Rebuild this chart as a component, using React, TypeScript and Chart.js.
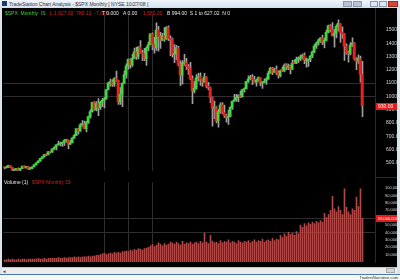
import React, { useEffect, useRef } from "react";
import { Chart, registerables } from "chart.js";
Chart.register(...registerables);

// ---------- data ----------
const START_YEAR = 1993;
const START_MONTH = 10; // November (0-based)
const SLOTS = 186; // Nov 1993 .. Apr 2009 (data ends Oct 2008)
const YEAR_TICKS = ["94", "95", "96", "97", "98", "99", "00", "01", "02", "03", "04", "05", "06", "07", "08", "09"];
const FIRST_TICK_YEAR = 1994;

const FIRST_OPEN = 467.83;
const CLOSES = [
  461.79, 466.45,
  481.61, 467.14, 445.77, 450.91, 456.5, 444.27, 458.26, 475.49, 462.69, 472.35, 453.69, 459.27,
  470.42, 487.39, 500.71, 514.71, 533.4, 544.75, 562.06, 561.88, 584.41, 581.5, 605.37, 615.93,
  636.02, 640.43, 645.5, 654.17, 669.12, 670.63, 639.95, 651.99, 687.31, 705.27, 757.02, 740.74,
  786.16, 790.82, 757.12, 801.34, 848.28, 885.14, 954.29, 899.47, 947.28, 914.62, 955.4, 970.43,
  980.28, 1049.34, 1101.75, 1111.75, 1090.82, 1133.84, 1120.67, 957.28, 1017.01, 1098.67, 1163.63, 1229.23,
  1279.64, 1238.33, 1286.37, 1335.18, 1301.84, 1372.71, 1328.72, 1320.41, 1282.71, 1362.93, 1388.91, 1469.25,
  1394.46, 1366.42, 1498.58, 1452.43, 1420.6, 1454.6, 1430.83, 1517.68, 1436.51, 1429.4, 1314.95, 1320.28,
  1366.01, 1239.94, 1160.33, 1249.46, 1255.82, 1224.42, 1211.23, 1133.58, 1040.94, 1059.78, 1139.45, 1148.08,
  1130.2, 1106.73, 1147.39, 1076.92, 1067.14, 989.82, 911.62, 916.07, 815.28, 885.76, 936.31, 879.82,
  855.7, 841.15, 848.18, 916.92, 963.59, 974.5, 990.31, 1008.01, 995.97, 1050.71, 1058.2, 1111.92,
  1131.13, 1144.94, 1126.21, 1107.3, 1120.68, 1140.84, 1101.72, 1104.24, 1114.58, 1130.2, 1173.82, 1211.92,
  1181.27, 1203.6, 1180.59, 1156.85, 1191.5, 1191.33, 1234.18, 1220.33, 1228.81, 1207.01, 1249.48, 1248.29,
  1280.08, 1280.66, 1294.83, 1310.61, 1270.09, 1270.2, 1276.66, 1303.82, 1335.85, 1377.94, 1400.63, 1418.3,
  1438.24, 1406.82, 1420.86, 1482.37, 1530.62, 1503.35, 1455.27, 1473.99, 1526.75, 1549.38, 1481.14, 1468.36,
  1378.55, 1330.63, 1322.7, 1385.59, 1400.38, 1280.0, 1267.38, 1282.83, 1166.36, 930.0,
];
const HIGHS = [
  468.6, 471.3,
  482.9, 482.2, 468.6, 453.1, 457.6, 462.1, 459.3, 476.6, 477.2, 473.8, 473.7, 466.9,
  471.4, 489.2, 501.3, 515.3, 534.5, 547.0, 565.0, 565.9, 586.0, 587.1, 606.3, 622.9,
  636.2, 664.2, 656.4, 656.7, 674.6, 673.4, 672.7, 669.3, 690.9, 714.1, 757.8, 761.8,
  794.7, 817.7, 814.9, 812.9, 851.9, 898.7, 957.7, 960.3, 960.4, 983.1, 963.4, 986.3,
  993.0, 1051.0, 1106.3, 1130.0, 1123.8, 1141.0, 1190.6, 1121.0, 1066.1, 1102.7, 1192.7, 1244.9,
  1280.5, 1283.8, 1316.6, 1362.8, 1368.0, 1372.9, 1420.3, 1346.1, 1361.0, 1373.2, 1408.7, 1473.1,
  1478.0, 1444.6, 1553.1, 1527.2, 1481.5, 1474.6, 1517.3, 1525.2, 1530.1, 1454.8, 1438.5, 1389.1,
  1383.4, 1376.7, 1267.4, 1269.3, 1315.9, 1286.6, 1239.8, 1255.8, 1155.4, 1110.6, 1163.4, 1173.0,
  1176.6, 1130.2, 1173.0, 1147.8, 1106.6, 1070.7, 994.5, 965.0, 924.0, 900.9, 951.6, 954.3,
  935.0, 864.6, 895.9, 924.2, 965.4, 1015.3, 1015.4, 1011.0, 1040.3, 1053.8, 1063.7, 1112.6,
  1155.4, 1158.9, 1163.2, 1150.6, 1127.7, 1146.2, 1140.8, 1109.7, 1131.5, 1142.1, 1188.5, 1217.9,
  1217.8, 1212.4, 1229.1, 1191.9, 1199.6, 1219.6, 1245.2, 1245.9, 1243.1, 1233.3, 1270.6, 1275.8,
  1294.9, 1297.6, 1310.9, 1318.2, 1326.7, 1290.7, 1280.4, 1306.7, 1340.3, 1389.5, 1407.9, 1431.8,
  1441.6, 1461.6, 1438.9, 1498.0, 1535.6, 1540.6, 1555.9, 1503.9, 1538.7, 1576.1, 1545.8, 1523.6,
  1471.8, 1396.0, 1341.2, 1404.0, 1440.2, 1404.1, 1292.2, 1313.2, 1303.0, 1264.1,
];
const LOWS = [
  454.4, 461.8,
  464.6, 464.3, 437.2, 435.9, 443.7, 442.8, 443.3, 457.3, 462.1, 460.6, 448.9, 452.6,
  457.2, 469.3, 482.6, 500.3, 511.4, 530.5, 543.8, 553.6, 560.4, 572.8, 578.2, 598.9,
  597.3, 632.9, 627.6, 624.2, 630.5, 654.1, 605.9, 639.6, 650.1, 684.5, 703.8, 716.7,
  737.0, 773.4, 756.1, 733.5, 797.4, 836.3, 881.1, 893.9, 891.1, 855.3, 902.7, 922.6,
  912.8, 979.4, 1047.9, 1076.7, 1074.4, 1074.7, 1114.3, 939.9, 939.0, 923.3, 1096.7, 1137.0,
  1205.5, 1211.9, 1226.2, 1282.7, 1277.9, 1281.0, 1325.5, 1268.6, 1268.3, 1233.7, 1343.0, 1387.4,
  1350.1, 1325.1, 1346.6, 1339.4, 1361.1, 1420.6, 1413.9, 1428.6, 1419.4, 1305.8, 1294.9, 1254.1,
  1274.6, 1228.3, 1081.2, 1091.9, 1232.0, 1203.0, 1165.5, 1124.0, 944.8, 1026.8, 1054.3, 1114.5,
  1081.7, 1074.4, 1106.7, 1063.5, 1048.9, 952.9, 775.7, 833.4, 800.2, 768.6, 872.7, 869.4,
  840.3, 806.3, 788.9, 847.9, 902.8, 963.4, 962.1, 960.8, 990.4, 995.9, 1031.2, 1056.8,
  1105.1, 1124.4, 1087.2, 1107.2, 1076.3, 1113.3, 1078.8, 1060.7, 1101.3, 1090.2, 1127.6, 1173.8,
  1163.8, 1180.0, 1163.7, 1136.2, 1146.2, 1188.3, 1183.6, 1201.1, 1201.1, 1168.2, 1201.1, 1246.6,
  1245.7, 1253.6, 1268.4, 1280.7, 1245.3, 1219.3, 1224.5, 1261.3, 1290.9, 1327.1, 1360.9, 1385.9,
  1403.9, 1389.4, 1363.9, 1416.4, 1476.7, 1484.2, 1454.3, 1370.6, 1439.3, 1489.6, 1406.1, 1435.7,
  1270.1, 1316.8, 1256.9, 1312.0, 1373.1, 1272.0, 1200.4, 1247.5, 1106.4, 848.0,
];
// monthly volume, millions
const VOLUMES = [
  3, 3,
  4, 3, 4, 3, 3, 4, 3, 4, 4, 3, 4, 4,
  4, 4, 4, 5, 4, 4, 5, 4, 5, 5, 5, 5,
  5, 6, 5, 5, 6, 5, 6, 6, 6, 7, 6, 7,
  6, 7, 7, 7, 8, 7, 8, 8, 9, 9, 10, 11,
  12, 10, 11, 12, 11, 13, 12, 13, 12, 14, 14, 15,
  14, 16, 15, 17, 16, 18, 17, 16, 18, 19, 20, 22,
  24, 21, 23, 26, 24, 22, 25, 23, 24, 27, 26, 24,
  27, 25, 23, 28, 24, 26, 25, 27, 24, 26, 27, 25,
  28, 26, 39, 27, 25, 36, 28, 26, 27, 25, 29, 26,
  28, 27, 30, 26, 28, 27, 25, 29, 27, 26, 28, 27,
  29, 26, 28, 30, 27, 29, 28, 31, 27, 29, 30, 28,
  32, 29, 31, 30, 36, 33, 38, 35, 40, 37, 39, 36,
  41, 38, 50, 47, 52, 49, 53, 51, 54, 52, 55, 53,
  56, 54, 66, 60, 64, 70, 89, 72, 68, 75, 70, 64,
  99, 74, 68, 64, 72, 70, 88, 75, 99, 59,
];

const GRID_MONTHS = ["1998-01", "1999-01", "2000-01"];
const PRICE_GRID = [1000, 1100];
const VOLUME_GRID = [40, 60];
const PRICE_TICKS = [500, 600, 700, 800, 900, 1000, 1100, 1200, 1300, 1400, 1500];
const VOLUME_TICKS = [10, 20, 30, 40, 50, 60, 70, 80, 90, 100];

const MONTHS: string[] = [];
for (let i = 0; i < SLOTS; i++) {
  const m = START_MONTH + i;
  MONTHS.push(`${START_YEAR + Math.floor(m / 12)}-${String((m % 12) + 1).padStart(2, "0")}`);
}

const GREEN = "#40d840";
const RED = "#e8201e";
const FONT = "'Liberation Sans', Arial, sans-serif";

const overlayPlugin = {
  id: "overlay",
  beforeDatasetsDraw(chart: any, _args: any, opts: any) {
    const { ctx, chartArea, scales } = chart;
    ctx.save();
    ctx.strokeStyle = "#2e2e2e";
    ctx.lineWidth = 1;
    for (const m of opts.vlines || []) {
      const x = Math.round(scales.x.getPixelForValue(MONTHS.indexOf(m))) + 0.5;
      ctx.beginPath();
      ctx.moveTo(x, chartArea.top);
      ctx.lineTo(x, chartArea.bottom);
      ctx.stroke();
    }
    for (const v of opts.hlines || []) {
      const y = Math.round(scales.y.getPixelForValue(v)) + 0.5;
      ctx.beginPath();
      ctx.moveTo(chartArea.left, y);
      ctx.lineTo(chartArea.right, y);
      ctx.stroke();
    }
    ctx.restore();
  },
  // shift 1px-wide bars by half a pixel so they fall on whole pixels
  beforeDatasetDraw(chart: any, args: any, opts: any) {
    chart.ctx.save();
    if ((opts.shiftDatasets || []).includes(args.index)) chart.ctx.translate(0.5, 0);
  },
  afterDatasetDraw(chart: any) {
    chart.ctx.restore();
  },
  afterDraw(chart: any, _args: any, opts: any) {
    if (opts.marker == null) return;
    const { ctx, chartArea, scales } = chart;
    const y = Math.round(scales.y.getPixelForValue(opts.marker));
    ctx.save();
    ctx.fillStyle = "#e41c1c";
    ctx.fillRect(chartArea.right + 1, y - 3, chart.width - chartArea.right - 1, 7);
    ctx.fillStyle = "#ffffff";
    ctx.font = `${opts.markerSize || 5}px ${FONT}`;
    ctx.textBaseline = "middle";
    ctx.fillText(opts.markerText, chartArea.right + 3, y + 0.5);
    ctx.restore();
  },
};

export default function App() {
  const priceRef = useRef<HTMLCanvasElement>(null);
  const volRef = useRef<HTMLCanvasElement>(null);

  useEffect(() => {
    const n = CLOSES.length;
    const opens = CLOSES.map((_, i) => (i === 0 ? FIRST_OPEN : CLOSES[i - 1]));
    const bodies = MONTHS.map((_, i) => (i < n ? [opens[i], CLOSES[i]] : null));
    const wicks = MONTHS.map((_, i) => (i < n ? [LOWS[i], HIGHS[i]] : null));
    const bodyColors = MONTHS.map((_, i) => (i < n && CLOSES[i] < opens[i] ? RED : GREEN));
    const vols = MONTHS.map((_, i) => (i < n ? VOLUMES[i] : null));

    const price = new Chart(priceRef.current!, {
      type: "bar",
      data: {
        labels: MONTHS,
        datasets: [
          {
            label: "range",
            data: wicks as any,
            backgroundColor: "#a0a0a0",
            barThickness: 1,
            grouped: false,
            order: 2,
          } as any,
          {
            label: "$SPX",
            data: bodies as any,
            backgroundColor: bodyColors,
            barThickness: 2,
            minBarLength: 1,
            grouped: false,
            order: 1,
          } as any,
        ],
      },
      options: {
        animation: false,
        responsive: false,
        devicePixelRatio: 1,
        layout: { padding: 0 },
        plugins: {
          legend: { display: false },
          tooltip: { enabled: false },
          overlay: {
            vlines: GRID_MONTHS,
            hlines: PRICE_GRID,
            shiftDatasets: [0],
            marker: CLOSES[n - 1],
            markerText: CLOSES[n - 1].toFixed(2),
            markerSize: 5,
          },
        } as any,
        scales: {
          x: { type: "category", display: false, offset: true },
          y: {
            position: "right",
            min: 439,
            max: 1612,
            grid: { display: false },
            border: { display: false },
            ticks: {
              stepSize: 100,
              includeBounds: false,
              color: "#d8d8d8",
              padding: 3,
              font: { size: 5, family: FONT },
              callback: (v: any) => (PRICE_TICKS.includes(Number(v)) ? Number(v).toFixed(2) : ""),
            },
            afterFit: (s: any) => {
              s.width = 22;
            },
          },
        },
      },
      plugins: [overlayPlugin],
    });

    const vol = new Chart(volRef.current!, {
      type: "bar",
      data: {
        labels: MONTHS,
        datasets: [
          {
            label: "Volume",
            data: vols as any,
            backgroundColor: "#b04848",
            barThickness: 1,
          },
        ],
      },
      options: {
        animation: false,
        responsive: false,
        devicePixelRatio: 1,
        layout: { padding: 0 },
        plugins: {
          legend: { display: false },
          tooltip: { enabled: false },
          overlay: {
            vlines: GRID_MONTHS,
            hlines: VOLUME_GRID,
            shiftDatasets: [0],
            marker: VOLUMES[n - 1],
            markerText: (VOLUMES[n - 1] * 1e6).toLocaleString("en-US"),
            markerSize: 4,
          },
        } as any,
        scales: {
          x: {
            type: "category",
            offset: true,
            grid: { display: false },
            border: { display: false },
            ticks: {
              autoSkip: false,
              maxRotation: 0,
              minRotation: 0,
              padding: 1,
              color: "#d0d0d0",
              font: { size: 5, family: FONT },
              callback: (_v: any, i: number) => {
                const m = MONTHS[i];
                if (!m || !m.endsWith("-01")) return "";
                return YEAR_TICKS[Number(m.slice(0, 4)) - FIRST_TICK_YEAR] ?? "";
              },
            },
            afterFit: (s: any) => {
              s.height = 8;
            },
          },
          y: {
            position: "right",
            min: 0,
            max: 107.7,
            grid: { display: false },
            border: { display: false },
            ticks: {
              stepSize: 10,
              includeBounds: false,
              color: "#d8d8d8",
              padding: 2,
              font: { size: 4, family: FONT },
              callback: (v: any) =>
                VOLUME_TICKS.includes(Number(v)) ? (Number(v) * 1e6).toLocaleString("en-US") : "",
            },
            afterFit: (s: any) => {
              s.width = 22;
            },
          },
        },
      },
      plugins: [overlayPlugin],
    });

    return () => {
      price.destroy();
      vol.destroy();
    };
  }, []);

  const txt: React.CSSProperties = {
    position: "absolute",
    fontSize: 5,
    lineHeight: "6px",
    whiteSpace: "nowrap",
    fontFamily: FONT,
  };

  return (
    <div
      style={{
        position: "fixed",
        left: 0,
        top: 0,
        width: 400,
        height: 280,
        overflow: "hidden",
        background: "#e4e8ee",
        fontFamily: FONT,
      }}
    >
      {/* title bar */}
      <div style={{ position: "absolute", left: 0, top: 0, width: 400, height: 8, background: "linear-gradient(#f2f5fa, #d3e0f0)" }} />
      <div style={{ position: "absolute", left: 2, top: 1, width: 5, height: 5, background: "#1d3d6e" }} />
      <div style={{ ...txt, left: 9, top: 1, color: "#333" }}>TradeStation Chart Analysis - $SPX Monthly [ NYSE 10/27/08 ]</div>
      <div style={{ position: "absolute", left: 343, top: 1, width: 9, height: 6, background: "#b8c4d4", border: "1px solid #8a98ac", boxSizing: "border-box" }} />
      <div style={{ position: "absolute", left: 353, top: 1, width: 9, height: 6, background: "#b8c4d4", border: "1px solid #8a98ac", boxSizing: "border-box" }} />
      <div style={{ position: "absolute", left: 370, top: 1, width: 8, height: 6, background: "#dfe6ef", border: "1px solid #8a98ac", boxSizing: "border-box" }} />
      <div style={{ position: "absolute", left: 379, top: 1, width: 8, height: 6, background: "#dfe6ef", border: "1px solid #8a98ac", boxSizing: "border-box" }} />
      <div style={{ position: "absolute", left: 388, top: 1, width: 10, height: 6, background: "#d8463a", border: "1px solid #9a2a22", boxSizing: "border-box" }} />

      {/* chart body */}
      <div style={{ position: "absolute", left: 2, top: 8, width: 395, height: 259, background: "#000" }} />
      <canvas ref={priceRef} width={394} height={168} style={{ position: "absolute", left: 3, top: 9, width: 394, height: 168 }} />
      <canvas ref={volRef} width={394} height={92} style={{ position: "absolute", left: 3, top: 178, width: 394, height: 92 }} />

      {/* axis frame lines */}
      <div style={{ position: "absolute", left: 375, top: 8, width: 1, height: 255, background: "#7a0a0a" }} />
      <div style={{ position: "absolute", left: 375, top: 177, width: 22, height: 1, background: "#7a0a0a" }} />

      {/* price header */}
      <div style={{ ...txt, left: 5, top: 10, color: "#3fd83f" }}>$SPX&nbsp;&nbsp;Monthly&nbsp;&nbsp;IS</div>
      <div style={{ ...txt, left: 50, top: 10, color: "#e02020" }}>L 1,627.02&nbsp;&nbsp;780.10&nbsp;&nbsp;-7.02%</div>
      <div style={{ ...txt, left: 102, top: 10, color: "#e8e8e8" }}>T 0.000&nbsp;&nbsp;&nbsp;A 0.00</div>
      <div style={{ ...txt, left: 143, top: 10, color: "#e02020" }}>1,580.00</div>
      <div style={{ ...txt, left: 167, top: 10, color: "#e8e8e8" }}>B 994.00&nbsp;&nbsp;S 1 to 627.02&nbsp;&nbsp;N 0</div>

      {/* volume header */}
      <div style={{ ...txt, left: 4, top: 179, color: "#e8e8e8" }}>Volume (1)</div>
      <div style={{ ...txt, left: 32, top: 179, color: "#d02020" }}>$SPX Monthly 33</div>

      {/* side frames */}
      <div style={{ position: "absolute", left: 0, top: 8, width: 2, height: 266, background: "#dde3ea" }} />
      <div style={{ position: "absolute", left: 397, top: 8, width: 3, height: 266, background: "#dde3ea" }} />

      {/* scrollbar */}
      <div style={{ position: "absolute", left: 2, top: 267, width: 395, height: 7, background: "#ececec", borderTop: "1px solid #c8c8c8", boxSizing: "border-box" }} />
      <div style={{ ...txt, left: 3, top: 268, color: "#333" }}>◂</div>
      <div style={{ position: "absolute", left: 386, top: 268, width: 9, height: 5, background: "#d6d6d6", border: "1px solid #aaa", boxSizing: "border-box" }} />
      <div style={{ position: "absolute", left: 0, top: 274, width: 400, height: 1, background: "#4a78b0" }} />
      <div style={{ position: "absolute", left: 0, top: 275, width: 400, height: 5, background: "#f6f6f6" }} />
      <div style={{ ...txt, right: 2, top: 275, fontSize: 4, lineHeight: "5px", color: "#333" }}>TradersNarrative.com</div>
    </div>
  );
}
